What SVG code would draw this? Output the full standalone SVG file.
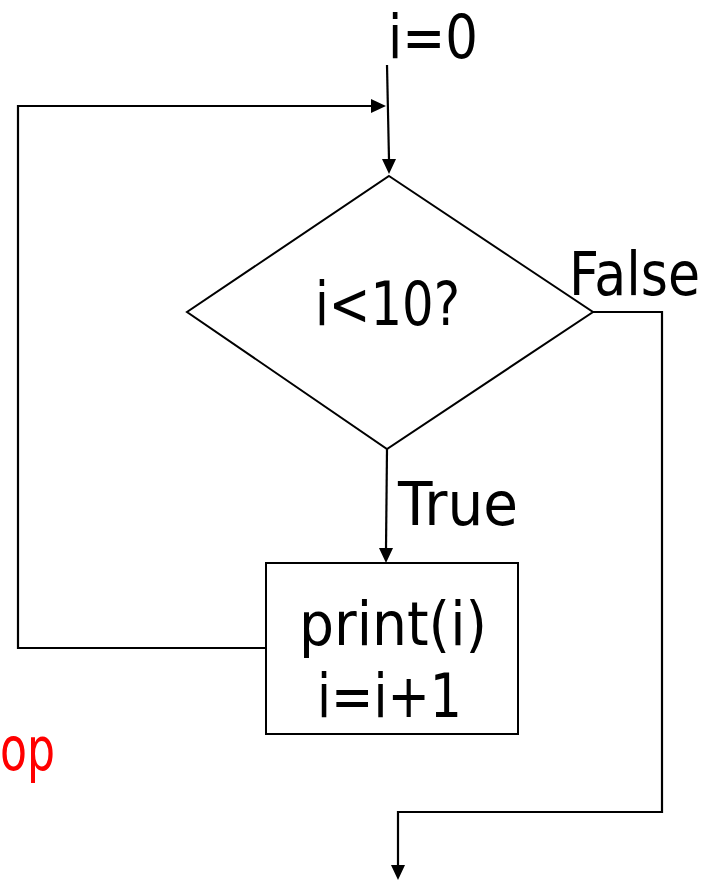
<svg xmlns="http://www.w3.org/2000/svg" width="714" height="880" viewBox="0 0 714 880">
<style>
text{font-family:"DejaVu Sans","Liberation Sans",sans-serif;font-size:61px;fill:#000}
.red{fill:#ff0000}
.ln{fill:none;stroke:#000;stroke-width:2.2}
.shape{fill:#fff;stroke:#000;stroke-width:2}
.head{fill:#000;stroke:none}
</style>
<g id="connectors">
<line class="ln" x1="387" y1="65" x2="389" y2="160"/>
<polygon class="head" points="389,174 382,159 396,159"/>
<polyline class="ln" points="265,648 18,648 18,106 372,106"/>
<polygon class="head" points="386,106 371,99 371,113"/>
<line class="ln" x1="387" y1="449" x2="386" y2="549"/>
<polygon class="head" points="386,563 379,548 393,548"/>
<polyline class="ln" points="593,312 662,312 662,812 398,812 398,866"/>
<polygon class="head" points="398,880 391,865 405,865"/>
</g>
<g id="start">
<text x="388" y="58" textLength="90" lengthAdjust="spacingAndGlyphs">i=0</text>
</g>
<g id="decision">
<polygon class="shape" points="389,176 593,312 387,449 187,312"/>
<text x="315" y="325" textLength="145" lengthAdjust="spacingAndGlyphs">i&lt;10?</text>
</g>
<g id="false-label">
<text x="569" y="295" textLength="131" lengthAdjust="spacingAndGlyphs">False</text>
</g>
<g id="true-label">
<text x="398" y="525" textLength="120" lengthAdjust="spacingAndGlyphs">True</text>
</g>
<g id="body">
<rect class="shape" x="266" y="563" width="252" height="171"/>
<text x="299" y="645" textLength="188" lengthAdjust="spacingAndGlyphs">print(i)</text>
<text x="317" y="717" textLength="145" lengthAdjust="spacingAndGlyphs">i=i+1</text>
</g>
<g id="loop-label">
<text class="red" x="0" y="770" textLength="55" lengthAdjust="spacingAndGlyphs">op</text>
</g>
</svg>
